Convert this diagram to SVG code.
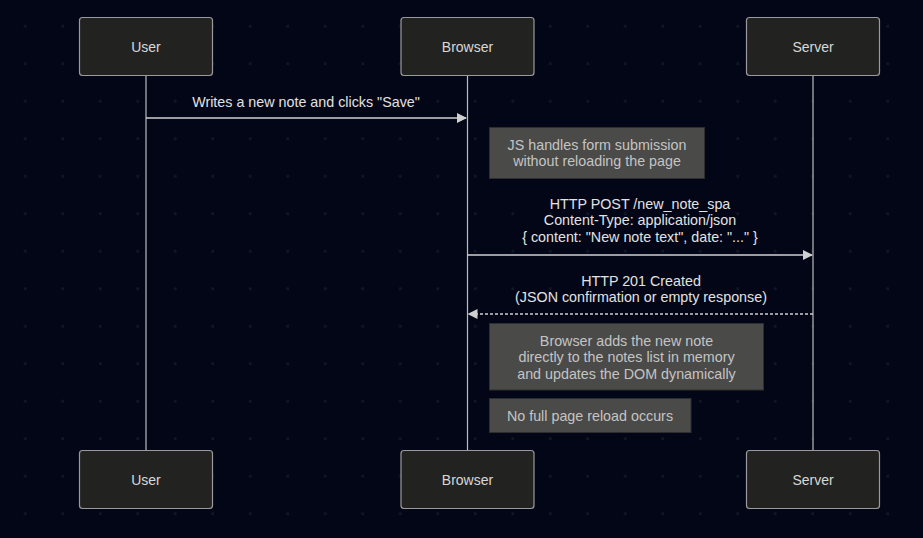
<svg xmlns="http://www.w3.org/2000/svg" width="923" height="538" viewBox="0 0 923 538">
<defs>
<pattern id="dots" x="0" y="0" width="37.5" height="37.5" patternUnits="userSpaceOnUse">
<rect x="24" y="25" width="2.5" height="2.5" fill="#141a29"/>
</pattern>
<marker id="ah" viewBox="0 0 10 10" refX="9" refY="5" markerWidth="10" markerHeight="10" markerUnits="userSpaceOnUse" orient="auto">
<path d="M0,0 L10,5 L0,10 z" fill="#d0d0d0"/>
</marker>
<style>
.actor rect{fill:#222321;stroke:#9a9a9a;stroke-width:1.2}
.actor text{fill:#d8d8d8;font-family:"Liberation Sans",Arial,sans-serif;font-size:14px;text-anchor:middle}
.life{stroke:#bdbdbd;stroke-width:1.2}
.msg{stroke:#d0d0d0;stroke-width:1.3;fill:none}
.dash{stroke-dasharray:3 2}
.mt{fill:#e2e2e2;font-family:"Liberation Sans",Arial,sans-serif;font-size:14.3px;text-anchor:middle}
.note rect{fill:#4a4a48;stroke:#2e2e2e;stroke-width:1}
.note text{fill:#c4c4c4;font-family:"Liberation Sans",Arial,sans-serif;font-size:14.3px;text-anchor:middle}
</style>
</defs>
<rect width="923" height="538" fill="#020617"/>
<rect width="923" height="538" fill="url(#dots)"/>
<g id="lifelines">
<line class="life" x1="146" y1="75.5" x2="146" y2="450.5"/>
<line class="life" x1="467.5" y1="75.5" x2="467.5" y2="450.5"/>
<line class="life" x1="813" y1="75.5" x2="813" y2="450.5"/>
</g>
<g id="actor-user-top" class="actor"><rect x="79.5" y="17.5" width="133" height="58" rx="3"/><text x="146" y="51.5">User</text></g>
<g id="actor-browser-top" class="actor"><rect x="401" y="17.5" width="133" height="58" rx="3"/><text x="467.5" y="51.5">Browser</text></g>
<g id="actor-server-top" class="actor"><rect x="746.5" y="17.5" width="133" height="58" rx="3"/><text x="813" y="51.5">Server</text></g>
<g id="actor-user-bottom" class="actor"><rect x="79.5" y="450.5" width="133" height="58" rx="3"/><text x="146" y="484.5">User</text></g>
<g id="actor-browser-bottom" class="actor"><rect x="401" y="450.5" width="133" height="58" rx="3"/><text x="467.5" y="484.5">Browser</text></g>
<g id="actor-server-bottom" class="actor"><rect x="746.5" y="450.5" width="133" height="58" rx="3"/><text x="813" y="484.5">Server</text></g>
<g id="connectors">
<line class="msg" x1="146" y1="118" x2="466" y2="118" marker-end="url(#ah)"/>
<text class="mt" x="306" y="107">Writes a new note and clicks "Save"</text>
<line class="msg" x1="467.5" y1="255" x2="812" y2="255" marker-end="url(#ah)"/>
<text class="mt" x="640" y="209">HTTP POST /new_note_spa</text>
<text class="mt" x="640" y="225">Content-Type: application/json</text>
<text class="mt" x="640" y="242">{ content: "New note text", date: "..." }</text>
<line class="msg dash" x1="813" y1="314" x2="468.5" y2="314" marker-end="url(#ah)"/>
<text class="mt" x="641" y="286">HTTP 201 Created</text>
<text class="mt" x="641" y="302">(JSON confirmation or empty response)</text>
</g>
<g id="note-1" class="note"><rect x="489.5" y="127.5" width="215" height="51"/><text x="597" y="150">JS handles form submission</text><text x="597" y="166">without reloading the page</text></g>
<g id="note-2" class="note"><rect x="489.5" y="323.5" width="274" height="66.5"/><text x="626.5" y="346">Browser adds the new note</text><text x="626.5" y="362">directly to the notes list in memory</text><text x="626.5" y="379">and updates the DOM dynamically</text></g>
<g id="note-3" class="note"><rect x="489.5" y="398.5" width="201.5" height="34"/><text x="590" y="420.5">No full page reload occurs</text></g>
</svg>
